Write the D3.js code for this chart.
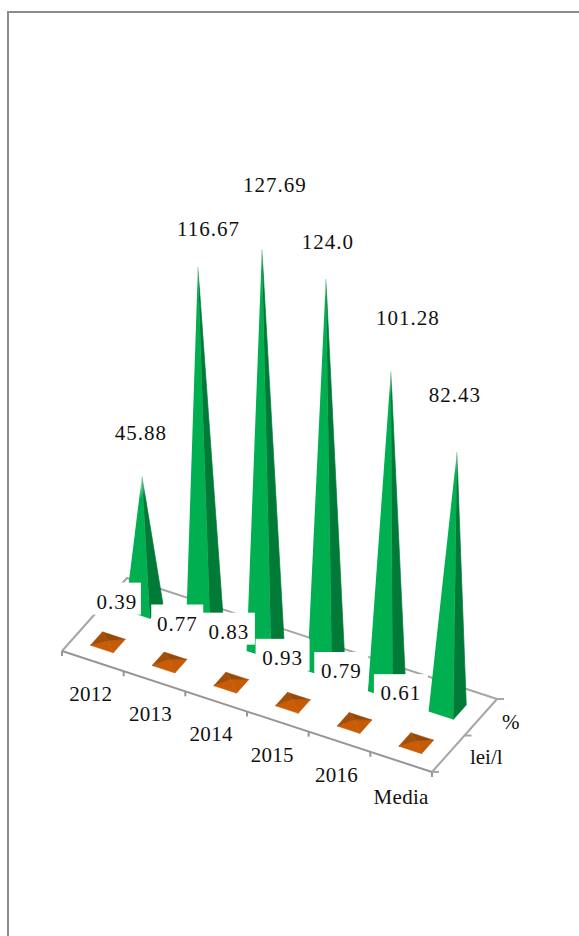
<!DOCTYPE html>
<html>
<head>
<meta charset="utf-8">
<script src="https://cdn.jsdelivr.net/npm/d3@7"></script>
<style>
  html, body { margin: 0; padding: 0; background: #fff; }
  svg { display: block; }
  text { font-family: "Liberation Serif", "Times New Roman", serif; fill: #111; }
</style>
</head>
<body>
<svg id="chart" width="579" height="936"></svg>
<script>
// Values per year
const categories = ["2012", "2013", "2014", "2015", "2016", "Media"];
const seriesNames = ["lei/l", "%"];
const leiValues = [0.39, 0.77, 0.83, 0.93, 0.79, 0.61];
const percentValues = [45.88, 116.67, 127.69, 124.0, 101.28, 82.43];
const percentLabels = ["45.88", "116.67", "127.69", "124.0", "101.28", "82.43"];

// Nudges that keep the data labels off the neighbouring spikes
const percentLabelShift = [[-1, -36], [10.5, -31], [13, -57], [2, -30], [17, -46], [-2, -50]];
const leiLabelShift = [[-24.6, -7.7], [-26, -6], [-36, -18], [-44, -12], [-47, -19], [-49, -17]];
const plateWidths = [48, 52, 52, 54, 54, 54];
const categoryLabelShift = [-2, -4, -5, -5.5, -3, 0];
const categoryLabelDrop = [40, 40, 40, 40, 40, 42];

const fontSize = 21;
const svg = d3.select("#chart");
const defs = svg.append("defs");

// Outer frame of the chart area
svg.append("rect")
  .attr("x", 8).attr("y", 12)
  .attr("width", 579).attr("height", 960)
  .attr("fill", "#fff").attr("stroke", "#8c8c8c").attr("stroke-width", 2);

// Oblique floor: one scale along the categories, one along the series depth
const along = d3.scaleBand().domain(categories).range([0, 1]);
const depth = d3.scaleBand().domain(seriesNames).range([0, 1]);
const origin = [62, 651], corner = [432, 772], depthEnd = [497, 699];
const floorX = (a, d) => origin[0] + a * (corner[0] - origin[0]) + d * (depthEnd[0] - corner[0]);
const floorY = (a, d) => origin[1] + a * (corner[1] - origin[1]) + d * (depthEnd[1] - corner[1]);
const pt = (a, d) => [floorX(a, d), floorY(a, d)];
const line = d3.line();

// Column index helpers for the view's perspective
const columns = d3.range(categories.length);
const nearer = d3.scaleLinear().domain([0, 5]).range([1, 1.031]);
const rowDriftX = d3.scaleLinear().domain([0, 5]).range([2.5, -2.5]);
const lean = d3.scaleLinear().domain(columns).range([-0.016, -0.019, -0.0088, -0.0005, 0.013, 0.037]);

// Heights above the floor for each series
const percentHeight = d3.scaleLinear().domain([5, 130]).range([0, 401]);
const leiHeight = d3.scaleLinear().domain([0, 1]).range([0, 4]);

// Floor and its edges
const floor = svg.append("g");
floor.append("path")
  .attr("d", line([pt(0, 0), pt(1, 0), pt(1, 1), pt(0, 1)]) + "Z")
  .attr("fill", "#fff");
floor.append("path")
  .attr("d", line([pt(0, 0), pt(0, 1), pt(1, 1)]))
  .attr("fill", "none").attr("stroke", "#a6a6a6").attr("stroke-width", 2);
floor.append("path")
  .attr("d", line([pt(1, 1), pt(1, 0)]))
  .attr("fill", "none").attr("stroke", "#a6a6a6").attr("stroke-width", 2);
floor.append("path")
  .attr("d", line([pt(0, 0), pt(1, 0)]))
  .attr("fill", "none").attr("stroke", "#969696").attr("stroke-width", 2);

// Tick marks along both floor axes
const edgeTicks = d3.range(categories.length + 1).map(i => i / categories.length);
floor.selectAll(".tick-x").data(edgeTicks).join("line")
  .attr("x1", d => floorX(d, 0)).attr("y1", d => floorY(d, 0))
  .attr("x2", d => floorX(d, 0)).attr("y2", d => floorY(d, 0) + 5)
  .attr("stroke", "#969696").attr("stroke-width", 2);
floor.selectAll(".tick-z").data([0, 0.5, 1]).join("line")
  .attr("x1", d => floorX(1, d)).attr("y1", d => floorY(1, d))
  .attr("x2", d => floorX(1, d) + 7).attr("y2", d => floorY(1, d))
  .attr("stroke", "#a6a6a6").attr("stroke-width", 2);

// Square footprint of a pyramid in floor coordinates, moved by (dx, dy) on screen
function footprint(cat, series, size, dx, dy) {
  const a = along(cat) + along.bandwidth() / 2;
  const d = depth(series) + depth.bandwidth() / 2;
  const da = along.bandwidth() * size / 2, dd = depth.bandwidth() * size / 2;
  const at = (p, q) => { const m = pt(p, q); return [m[0] + dx, m[1] + dy]; };
  return {
    centre: at(a, d),
    left: at(a - da, d - dd),
    front: at(a + da, d - dd),
    right: at(a + da, d + dd),
    back: at(a - da, d + dd)
  };
}

// Green spikes for the percentage series, back row
const spikeData = categories.map((c, i) => {
  const f = footprint(c, "%", 0.4, rowDriftX(i), 1);
  const h = percentHeight(percentValues[i]) * nearer(i);
  return { c, i, f, apex: [f.centre[0] + lean(i) * h, f.centre[1] - h] };
});

// Each face fades out over the last stretch of its tip
function tipGradient(id, apexY, colour) {
  const g = defs.append("linearGradient")
    .attr("id", id)
    .attr("gradientUnits", "userSpaceOnUse")
    .attr("x1", 0).attr("x2", 0)
    .attr("y1", apexY).attr("y2", apexY + 22);
  g.append("stop").attr("offset", 0).attr("stop-color", colour).attr("stop-opacity", 0.25);
  g.append("stop").attr("offset", 1).attr("stop-color", colour).attr("stop-opacity", 1);
  return `url(#${id})`;
}
const spikes = svg.append("g").selectAll("g").data(spikeData).join("g");
// The dark face is stroked so the lighter face closes over the shared ridge
spikes.append("path")
  .attr("d", d => line([d.f.right, d.f.front, d.apex]) + "Z")
  .attr("fill", d => tipGradient(`dark-${d.i}`, d.apex[1], "#007a37"))
  .attr("stroke", d => `url(#dark-${d.i})`)
  .attr("stroke-width", 0.7);
spikes.append("path")
  .attr("d", d => line([d.f.left, d.f.front, d.apex]) + "Z")
  .attr("fill", d => tipGradient(`light-${d.i}`, d.apex[1], "#00b050"));

// Flat orange pyramids for the price series, front row
const pads = svg.append("g").selectAll("g")
  .data(categories.map((c, i) => {
    const f = footprint(c, "lei/l", 0.37, -1.2, -0.5);
    return { f, apex: [f.centre[0], f.centre[1] - leiHeight(leiValues[i])] };
  }))
  .join("g");
const faces = [["left", "front", "#cb5c06"], ["front", "right", "#c55a07"],
               ["right", "back", "#984807"], ["back", "left", "#a54e07"]];
faces.forEach(([p, q, colour]) => {
  pads.append("path")
    .attr("d", d => line([d.f[p], d.f[q], d.apex]) + "Z")
    .attr("fill", colour).attr("stroke", colour).attr("stroke-width", 0.5);
});

// Percentage labels above the spikes
svg.append("g").selectAll("text").data(spikeData).join("text")
  .attr("x", d => d.apex[0] + percentLabelShift[d.i][0])
  .attr("y", d => d.apex[1] + percentLabelShift[d.i][1])
  .attr("text-anchor", "middle")
  .attr("font-size", fontSize)
  .attr("letter-spacing", 1)
  .text(d => percentLabels[d.i]);

// Price labels on white plates
const plates = svg.append("g").selectAll("g").data(categories).join("g")
  .attr("transform", (c, i) => {
    const f = footprint(c, "%", 0.4, 0, 0);
    return `translate(${f.centre[0] + leiLabelShift[i][0]},${f.centre[1] + leiLabelShift[i][1]})`;
  });
plates.append("rect")
  .attr("x", (c, i) => -plateWidths[i] / 2).attr("y", -16)
  .attr("width", (c, i) => plateWidths[i]).attr("height", 32)
  .attr("fill", "#fff");
plates.append("text")
  .attr("y", 10)
  .attr("text-anchor", "middle")
  .attr("font-size", fontSize)
  .attr("letter-spacing", 1)
  .text((c, i) => leiValues[i].toFixed(2));

// Category names under the front edge
svg.append("g").selectAll("text").data(categories).join("text")
  .attr("x", (c, i) => floorX(along(c) + along.bandwidth() / 2, 0) + categoryLabelShift[i])
  .attr("y", (c, i) => floorY(along(c) + along.bandwidth() / 2, 0) + categoryLabelDrop[i])
  .attr("text-anchor", "middle")
  .attr("font-size", fontSize)
  .attr("letter-spacing", 0.3)
  .text(c => c);

// Series names beside the right edge
svg.append("g").selectAll("text").data(seriesNames).join("text")
  .attr("x", s => floorX(1, depth(s) + depth.bandwidth() / 2) + (s === "%" ? 30 : 38))
  .attr("y", s => floorY(1, depth(s) + depth.bandwidth() / 2) + (s === "%" ? 12 : 10))
  .attr("text-anchor", "middle")
  .attr("font-size", fontSize)
  .text(s => s);
</script>
</body>
</html>
